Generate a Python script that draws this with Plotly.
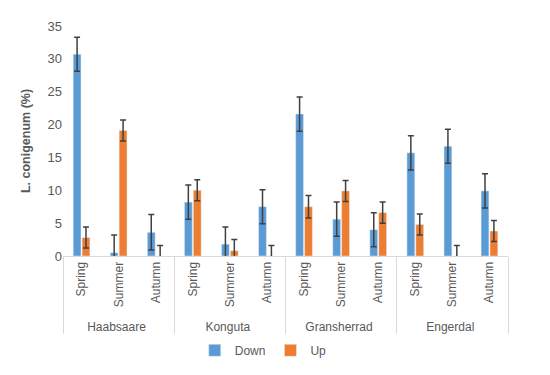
import plotly.graph_objects as go

sites = ["Haabsaare", "Konguta", "Gransherrad", "Engerdal"]
seasons = ["Spring", "Summer", "Autumn"]
down = [30.7, 0.5, 3.6, 8.2, 1.8, 7.5, 21.6, 5.6, 4.0, 15.7, 16.7, 9.9]
down_err = [2.6, 2.7, 2.7, 2.6, 2.6, 2.6, 2.6, 2.6, 2.6, 2.6, 2.6, 2.6]
up = [2.8, 19.1, 0.0, 10.0, 0.8, 0.0, 7.5, 9.9, 6.6, 4.8, 0.0, 3.8]
up_err = [1.6, 1.6, 1.6, 1.6, 1.7, 1.6, 1.7, 1.6, 1.6, 1.6, 1.6, 1.6]

x = [[s for s in sites for _ in seasons], [se for _ in sites for se in seasons]]

font = "Liberation Sans"
grey = "#595959"
errc = "#404040"

fig = go.Figure()
fig.add_trace(go.Bar(name="Down", x=x, y=down, marker_color="#5B9BD5",
                     error_y=dict(type="data", array=down_err, color=errc, thickness=1.5, width=3)))
fig.add_trace(go.Bar(name="Up", x=x, y=up, marker_color="#ED7D31",
                     error_y=dict(type="data", array=up_err, color=errc, thickness=1.5, width=3)))

fig.update_layout(
    width=550, height=375,
    margin=dict(l=55, r=50, t=18, b=127, autoexpand=False),
    plot_bgcolor="white", paper_bgcolor="white",
    barmode="group", bargap=0.52, bargroupgap=0.12,
    font=dict(family=font, size=12, color=grey),
    legend=dict(orientation="h", x=0.45, xanchor="center", y=-0.41, yanchor="middle",
                font=dict(size=12, color=grey), itemwidth=30, tracegroupgap=0),
    showlegend=True,
)
fig.update_yaxes(range=[0, 35], dtick=5, showgrid=False, zeroline=False, showline=False,
                 ticks="", tickfont=dict(size=13, color=grey),
                 title=dict(text="<b>L. conigenum (%)</b>", font=dict(size=12.5, color=grey), standoff=14))
fig.update_xaxes(type="multicategory", showline=True, linecolor="#D9D9D9", linewidth=1,
                 showdividers=True, dividercolor="#D9D9D9", dividerwidth=1,
                 tickangle=-90, tickfont=dict(size=12, color=grey), ticks="")
fig.write_html("out.html")
